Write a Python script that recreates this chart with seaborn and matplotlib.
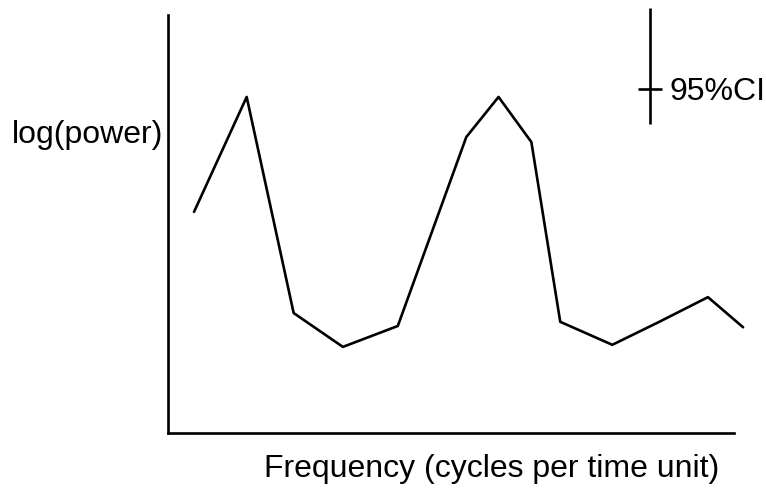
import numpy as np
import pandas as pd
import matplotlib
matplotlib.use("Agg")
import matplotlib.pyplot as plt
import seaborn as sns

# Data (normalized units)
frequency = [0.046, 0.139, 0.222, 0.309, 0.406, 0.527, 0.584, 0.642, 0.693, 0.785, 0.868, 0.954, 1.016]
log_power = [0.529, 0.804, 0.287, 0.206, 0.256, 0.708, 0.804, 0.696, 0.266, 0.211, 0.266, 0.325, 0.253]
ci_x = [0.852]
ci_low = [0.739]
ci_high = [1.017]
ci_mark = [0.823]
ci_label = "95%CI"
x_label = "Frequency (cycles per time unit)"
y_label = "log(power)"

sns.set_style("white")
plt.rcParams['font.family'] = ['Liberation Sans', 'DejaVu Sans']

df = pd.DataFrame({"frequency": frequency, "log_power": log_power})

fig = plt.figure(figsize=(7.66, 4.88), dpi=100)
ax = fig.add_axes([168/766, 1 - 433/488, 566/766, 418/488])

sns.lineplot(data=df, x="frequency", y="log_power", ax=ax, color="black",
             linewidth=1.9, sort=False, estimator=None)
for l in ax.lines:
    l.set_clip_on(False)

ax.set_xlim(0, 1)
ax.set_ylim(0, 1)
ax.set_xticks([])
ax.set_yticks([])

for s in ["top", "right"]:
    ax.spines[s].set_visible(False)
for s in ["left", "bottom"]:
    ax.spines[s].set_color("black")
    ax.spines[s].set_linewidth(1.9)

# 95% CI bar
ax.vlines(ci_x, ci_low, ci_high, colors="black", linewidth=1.9, clip_on=False)
ax.plot(ci_x, ci_mark, marker="_", markersize=17, markeredgewidth=1.9,
        color="black", clip_on=False, linestyle="none")
ax.text(ci_x[0] + 19 / 566, (433 - 100) / 418, ci_label, fontsize=23,
        ha="left", va="baseline", color="black")

ax.set_xlabel(x_label, fontsize=23, color="black", va="baseline")
ax.xaxis.set_label_coords((492 - 168) / 566, (433 - 477) / 418)
ax.set_ylabel(y_label, fontsize=23, color="black", rotation=0, ha="right",
              va="baseline")
ax.yaxis.set_label_coords(-5 / 566, (433 - 143) / 418)

fig.savefig("out.png", dpi=100)
